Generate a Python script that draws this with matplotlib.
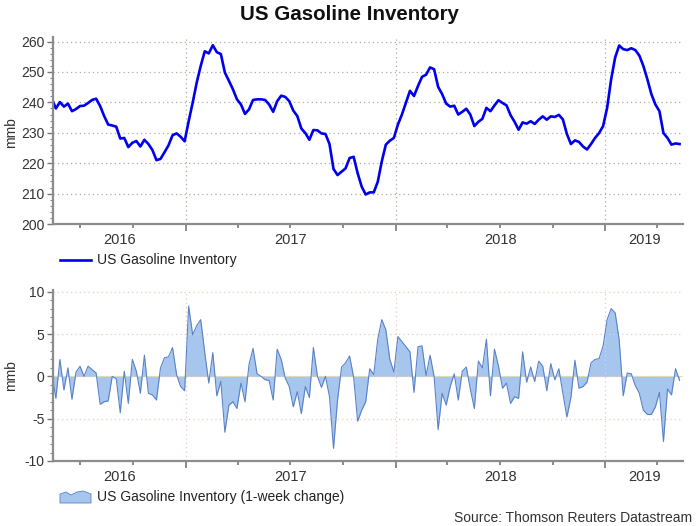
import matplotlib
matplotlib.use("Agg")
import matplotlib.pyplot as plt
import matplotlib.dates as mdates
import numpy as np
import pandas as pd
from matplotlib.lines import Line2D
from matplotlib.patches import Polygon
from matplotlib.ticker import MultipleLocator

plt.rcParams['font.family'] = ['Liberation Sans', 'DejaVu Sans']
plt.rcParams['axes.unicode_minus'] = False

# weekly data, first week ending 2016-05-13
first_week = "2016-05-13"

# US gasoline inventory, mmb
inventory = [
    241.2,
    238.0, 240.1, 238.6, 239.6, 237.1, 237.8, 238.8, 238.9, 239.8, 240.8,
    241.2, 238.8, 235.5, 232.7, 232.4, 232.0, 228.1, 228.3, 225.3, 226.7,
    227.3, 225.5, 227.7, 226.3, 224.3, 221.0, 221.4, 223.6, 225.9, 229.2,
    229.8, 228.7, 227.2, 233.8, 239.9, 246.5, 252.0, 256.8, 256.1, 258.8,
    256.5, 255.9, 249.8, 247.1, 244.3, 241.0, 239.3, 236.2, 237.7, 240.8,
    241.0, 241.0, 240.8,
    239.3, 236.9, 240.4, 242.2, 241.8, 240.4, 237.3, 235.5, 231.4, 229.9,
    227.7, 230.9, 230.8, 229.8, 229.6, 226.3, 218.1, 216.1, 217.2, 218.3,
    221.7, 222.1, 216.7, 212.3, 209.7, 210.4, 210.4, 213.9, 220.6, 226.1,
    227.4, 228.3, 232.7, 236.0, 239.9, 243.8, 242.1, 245.4, 248.4, 249.1,
    251.5, 250.9, 245.1, 242.7, 239.6, 238.6, 238.9, 236.0, 236.9, 237.9,
    236.0, 232.2,
    233.6, 234.6, 238.2, 237.1, 239.0, 240.7, 239.8, 239.0, 235.8, 233.6,
    231.0, 233.4, 233.0, 233.8, 232.9, 234.3, 235.4, 234.3, 235.4, 235.2,
    235.9, 234.4, 229.6, 226.3, 227.5, 227.0, 225.5, 224.5, 226.3, 228.3,
    229.9, 232.2, 238.2, 247.6, 254.8, 258.7, 257.5, 257.2, 257.8, 257.2,
    255.4, 252.0, 247.6, 242.7, 239.3, 237.1, 229.9, 228.3, 226.1, 226.5,
    226.3,
]

# 1-week change, mmb
weekly_change = [
    0.3,
    -2.6, 2.0, -1.6, 1.0, -2.7, 0.5, 1.2, 0.0, 1.2, 0.8,
    0.4, -3.3, -3.0, -2.9, 0.0, -0.3, -4.3, 0.6, -3.2, 2.0,
    0.6, -2.0, 2.5, -2.0, -2.2, -2.8, 1.0, 2.2, 2.3, 3.4,
    0.2, -1.2, -1.7, 8.3, 4.9, 6.0, 6.7, 2.8, -0.8, 2.8,
    -2.3, -0.6, -6.6, -3.4, -3.0, -3.8, -0.8, -3.0, 1.4, 3.3,
    0.3, 0.0, -0.4,
    -0.5, -2.8, 3.2, 2.0, -0.2, -1.2, -3.6, -1.8, -4.4, -1.2,
    -2.5, 3.4, 0.0, -1.3, 0.0, -2.4, -8.5, -2.8, 1.1, 1.6,
    2.4, -0.1, -5.3, -4.0, -3.0, 0.9, 0.2, 4.4, 6.7, 5.5,
    2.0, 0.5, 4.7, 4.1, 3.5, 2.9, -1.9, 3.5, 3.6, 0.1,
    2.5, 0.0, -6.3, -2.0, -3.4, -1.2, 0.3, -2.8, 0.6, 1.1,
    -1.5, -3.8,
    1.8, 1.0, 4.4, -2.3, 3.2, 1.2, -1.4, -0.8, -3.2, -2.4,
    -2.6, 2.9, -0.7, 1.1, -0.6, 1.8, 1.2, -1.7, 1.5, -0.4,
    0.9, -2.0, -4.8, -2.5, 1.9, -1.4, -1.2, -0.7, 1.6, 2.0,
    2.1, 3.6, 6.7, 8.0, 7.5, 4.3, -2.3, 0.4, 0.3, -1.1,
    -2.0, -4.0, -4.5, -4.5, -3.6, -1.9, -7.7, -1.5, -2.2, 0.9,
    -0.5,
]

year_labels = ["2016", "2017", "2018", "2019"]

weeks = pd.date_range(first_week, periods=len(inventory), freq="7D")
x0, x1 = pd.Timestamp("2016-05-15"), pd.Timestamp("2019-05-16")

W, H = 699, 526
fig = plt.figure(figsize=(W / 100, H / 100), dpi=100)

def box(l, t, r, b):
    return [l / W, 1 - b / H, (r - l) / W, (b - t) / H]

ax1 = fig.add_axes(box(53, 37, 683, 224))
ax2 = fig.add_axes(box(53, 290, 683, 461))

ax1.plot(weeks, inventory, color="#0000ee", lw=1.9, solid_joinstyle="round")
ax2.fill_between(weeks, 0, weekly_change, color="#a6c6ee", lw=0)
ax2.plot(weeks, weekly_change, color="#5a82c8", lw=0.8)

ax1.set_ylim(200, 261.5)
ax1.yaxis.set_major_locator(MultipleLocator(10))
ax1.yaxis.set_minor_locator(MultipleLocator(2))
ax2.set_ylim(-10, 10.2)
ax2.yaxis.set_major_locator(MultipleLocator(5))
ax2.yaxis.set_minor_locator(MultipleLocator(1))
ax2.axhline(0, color="#e6e6a8", lw=0.8, zorder=0)

years = [pd.Timestamp(f"{y}-01-01") for y in (2017, 2018, 2019)]
bounds = [x0] + years + [x1]
for ax, gcol in ((ax1, "#a8b0a0"), (ax2, "#efc8c0")):
    ax.set_xlim(x0, x1)
    ax.xaxis.set_major_locator(mdates.YearLocator())
    ax.xaxis.set_minor_locator(mdates.MonthLocator(bymonth=[1, 4, 7, 10]))
    ax.xaxis.set_major_formatter(plt.NullFormatter())
    ax.tick_params(axis="x", which="major", length=5, width=1.2, color="#777777")
    ax.tick_params(axis="x", which="minor", length=3, width=1.2, color="#777777")
    ax.tick_params(axis="y", which="major", length=4, width=1, color="#777777",
                   labelsize=10, labelcolor="#333333", pad=2)
    ax.tick_params(axis="y", which="minor", length=2, width=0.8, color="#888888")
    ax.grid(True, axis="y", which="major", color=gcol, ls=(0, (1, 2.5)), lw=0.9)
    ax.grid(True, axis="x", which="major", color=gcol, ls=(0, (1, 2.5)), lw=0.9)
    for s in ("top", "right"):
        ax.spines[s].set_visible(False)
    for s in ("left", "bottom"):
        ax.spines[s].set_color("#8c8c8c")
        ax.spines[s].set_linewidth(1.6)
    ax.set_ylabel("mmb", fontsize=10, color="#333333")
    for lab, a, b in zip(year_labels, bounds[:-1], bounds[1:]):
        mid = a + (b - a) / 2
        ax.text(mid, -0.085 if ax is ax1 else -0.093, lab, transform=ax.get_xaxis_transform(),
                ha="center", va="center", fontsize=10.5, color="#333333")

ax1.yaxis.set_label_coords(-0.056, 0.49)
ax2.yaxis.set_label_coords(-0.056, 0.5)

fig.text(0.5, 1 - 14 / H, "US Gasoline Inventory", ha="center", va="center",
         fontsize=14.8, fontweight="bold", color="#111111")

# legends
fig.add_artist(Line2D([60 / W, 91 / W], [1 - 260 / H] * 2, color="#0000ee", lw=1.9))
fig.text(97 / W, 1 - 260 / H, "US Gasoline Inventory", ha="left", va="center",
         fontsize=10, color="#222222")
wave = [(60, 503), (60, 494), (66, 492), (71, 495), (77, 492), (83, 491), (91, 494), (91, 503)]
fig.add_artist(Polygon([(px / W, 1 - py / H) for px, py in wave], closed=True,
                       facecolor="#a6c6ee", edgecolor="#5a82c8", lw=0.6,
                       transform=fig.transFigure))
fig.text(97 / W, 1 - 497 / H, "US Gasoline Inventory (1-week change)", ha="left",
         va="center", fontsize=10, color="#222222")
fig.text(692 / W, 1 - 518 / H, "Source: Thomson Reuters Datastream", ha="right",
         va="center", fontsize=10, color="#333333")

fig.savefig("out.png", dpi=100)
